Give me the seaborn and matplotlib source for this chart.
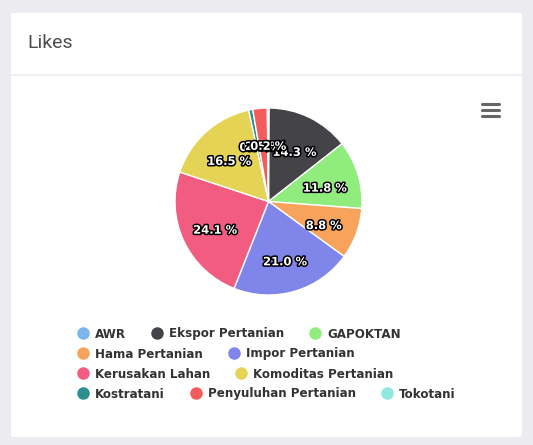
import numpy as np
import pandas as pd
import matplotlib
matplotlib.use("Agg")
import matplotlib.pyplot as plt
import seaborn as sns
from matplotlib.lines import Line2D
from matplotlib.patches import FancyBboxPatch
import matplotlib.patheffects as pe

# data (percent of likes)
kategori = ["AWR", "Ekspor Pertanian", "GAPOKTAN", "Hama Pertanian", "Impor Pertanian",
            "Kerusakan Lahan", "Komoditas Pertanian", "Kostratani",
            "Penyuluhan Pertanian", "Tokotani"]
persen = [0.1, 14.3, 11.8, 8.8, 21.0, 24.1, 16.5, 0.7, 2.5, 0.2]
warna = ["#7cb5ec", "#434348", "#90ed7d", "#f7a35c", "#8085e9",
         "#f15c80", "#e4d354", "#2b908f", "#f45b5b", "#91e8e1"]
baris_legenda = [[0, 1, 2], [3, 4], [5, 6], [7, 8, 9]]

df = pd.DataFrame({"kategori": kategori, "persen": persen})

sns.set_theme(style="white")
pal = sns.color_palette(warna)
plt.rcParams["font.family"] = ["DejaVu Sans"]

W, H = 533, 445
fig = plt.figure(figsize=(W / 100, H / 100), dpi=100)
fig.patch.set_facecolor("#ebebf0")

def fx(px):
    return px / W

def fy(py):
    return 1 - py / H

# white card
card = FancyBboxPatch((fx(11), fy(437)), fx(522) - fx(11), fy(13) - fy(437),
                      boxstyle="round,pad=0,rounding_size=0.004",
                      transform=fig.transFigure, facecolor="white",
                      edgecolor="none", zorder=-5)
fig.patches.append(card)
fig.add_artist(Line2D([fx(11), fx(522)], [fy(75), fy(75)], color="#eeeef2",
                      lw=1.2, transform=fig.transFigure, zorder=-4))
fig.text(fx(27), fy(43), "Likes", fontsize=14, color="#4d4d4d",
         family=["Roboto", "DejaVu Sans"], va="center", ha="left")

# hamburger menu
for yy in [104, 110, 116]:
    fig.add_artist(Line2D([fx(482), fx(499)], [fy(yy), fy(yy)], color="#666666",
                          lw=2.2, solid_capstyle="round", transform=fig.transFigure))

# pie
cx, cy, r = 268.5, 201.5, 93.5
ax = fig.add_axes([fx(cx - r), fy(cy + r), 2 * r / W, 2 * r / H])
ax.set_zorder(5)
ax.patch.set_alpha(0)
wedges, texts, autotexts = ax.pie(
    df["persen"], colors=pal, startangle=90, counterclock=False,
    autopct=lambda p: f"{p:.1f} %", pctdistance=0.63,
    wedgeprops=dict(edgecolor="white", linewidth=1),
    textprops=dict(color="white", fontsize=8.3, fontweight="bold"))
for t in autotexts:
    x0, y0 = t.get_position()
    t.set_position((x0, y0 - 0.04))
    t.set_path_effects([pe.withStroke(linewidth=2.2, foreground="black")])
ax.set_xlim(-1, 1)
ax.set_ylim(-1, 1)
ax.set_aspect("auto")
ax.axis("off")

# legend, flowing rows like the original
row_y = [334, 354, 374, 394]
for rows, yy in zip(baris_legenda, row_y):
    handles = [Line2D([], [], marker="o", linestyle="none", markersize=9,
                      markerfacecolor=pal[i], markeredgecolor="none") for i in rows]
    labels = [kategori[i] for i in rows]
    leg = fig.legend(handles, labels, loc="center left",
                     bbox_to_anchor=(fx(77), fy(yy)), ncol=len(rows),
                     frameon=False, handlelength=1.0, handletextpad=0.5,
                     columnspacing=2.1, borderpad=0, borderaxespad=0,
                     prop=dict(size=8.6, weight="bold"))
    for t in leg.get_texts():
        t.set_color("#333333")

fig.savefig("out.png", dpi=100, facecolor=fig.get_facecolor())
